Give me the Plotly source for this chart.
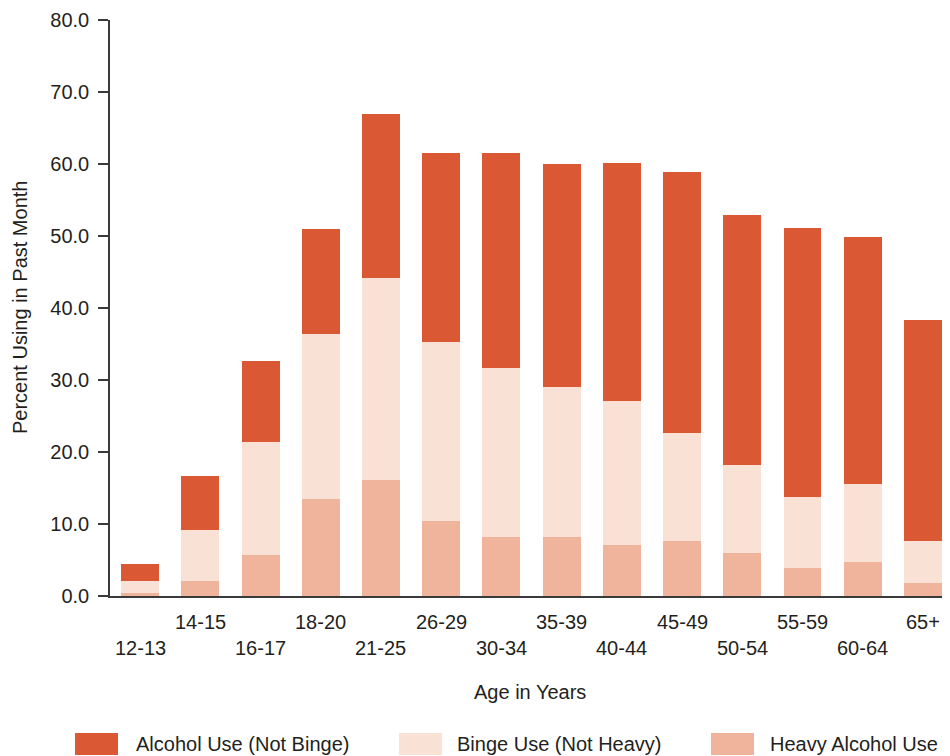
import plotly.graph_objects as go

# ---- data ----
categories = ["12-13", "14-15", "16-17", "18-20", "21-25", "26-29", "30-34",
              "35-39", "40-44", "45-49", "50-54", "55-59", "60-64", "65+"]
heavy_use = [0.4, 2.1, 5.7, 13.5, 16.1, 10.4, 8.2, 8.2, 7.1, 7.6, 6.0, 3.9, 4.7, 1.8]
binge_use = [1.7, 7.1, 15.7, 22.9, 28.1, 24.9, 23.5, 20.8, 20.0, 15.0, 12.2, 9.9, 10.9, 5.8]
alcohol_use = [2.3, 7.5, 11.2, 14.6, 22.7, 26.2, 29.8, 31.0, 33.1, 36.3, 34.7, 37.3, 34.3, 30.7]
series_names = ["Alcohol Use (Not Binge)", "Binge Use (Not Heavy)", "Heavy Alcohol Use"]
y_ticks = [0, 10, 20, 30, 40, 50, 60, 70, 80]

C_ALC = "#DA5833"
C_BINGE = "#FAE1D5"
C_HEAVY = "#F0B49C"
TXT = "#231F20"
AX = "#3a3a3a"
FONT = "Liberation Sans, Arial, sans-serif"
FS = 20

# page body offset (default 8px margin) is compensated
OFF = 8
W, H = 950 - OFF, 756 - OFF
ML, MR, MT = 110 - OFF, 0, 20 - OFF
MB = H - (596 - OFF)
PW, PH = W - ML - MR, H - MT - MB

def px_x(p):
    # reference pixel -> paper coordinate
    return (p - OFF - ML) / PW

def px_y(p):
    return (H - MB - (p - OFF)) / PH

fig = go.Figure()
idx = list(range(len(categories)))
fig.add_trace(go.Bar(x=idx, y=heavy_use, name=series_names[2], marker_color=C_HEAVY,
                     marker_line_width=0, showlegend=False))
fig.add_trace(go.Bar(x=idx, y=binge_use, name=series_names[1], marker_color=C_BINGE,
                     marker_line_width=0, showlegend=False))
fig.add_trace(go.Bar(x=idx, y=alcohol_use, name=series_names[0], marker_color=C_ALC,
                     marker_line_width=0, showlegend=False))

shapes = []
annotations = []
for i, c in enumerate(categories):
    upper = (i % 2 == 1)
    shapes.append(dict(type="line", xref="x", yref="y", x0=i, x1=i,
                       ysizemode="pixel", yanchor=0, y0=0, y1=-10 if upper else -32,
                       line=dict(color=AX, width=1.5)))
    annotations.append(dict(x=i, y=0, xref="x", yref="y", text=c, showarrow=False,
                            yanchor="middle", xanchor="center",
                            yshift=-26 if upper else -52,
                            font=dict(size=FS, color=TXT, family=FONT)))

# axis titles
annotations.append(dict(x=0.5, y=px_y(692), xref="paper", yref="paper", text="Age in Years",
                        showarrow=False, xanchor="center", yanchor="middle",
                        font=dict(size=FS, color=TXT, family=FONT)))
annotations.append(dict(x=px_x(20), y=0.5, xref="paper", yref="paper",
                        text="Percent Using in Past Month", textangle=-90,
                        showarrow=False, xanchor="center", yanchor="middle",
                        font=dict(size=FS, color=TXT, family=FONT)))

# custom legend
legend_items = [(series_names[0], C_ALC, 75, 134),
                (series_names[1], C_BINGE, 399, 455),
                (series_names[2], C_HEAVY, 711, 768)]
for name, col, sx, tx in legend_items:
    shapes.append(dict(type="rect", xref="paper", yref="paper",
                       x0=px_x(sx), x1=px_x(sx + 43), y0=px_y(733), y1=px_y(755),
                       fillcolor=col, line=dict(width=0)))
    annotations.append(dict(x=px_x(tx), y=px_y(744), xref="paper", yref="paper", text=name,
                            showarrow=False, xanchor="left", yanchor="middle",
                            font=dict(size=FS, color=TXT, family=FONT)))

fig.update_layout(
    barmode="stack",
    bargap=0.37,
    width=W, height=H,
    margin=dict(l=ML, r=MR, t=MT, b=MB),
    paper_bgcolor="white", plot_bgcolor="white",
    font=dict(family=FONT, size=FS, color=TXT),
    shapes=shapes,
    annotations=annotations,
    xaxis=dict(range=[-0.5, 13.45], showticklabels=False, ticks="", showgrid=False,
               zeroline=False, showline=True, linecolor=AX, linewidth=1.5),
    yaxis=dict(range=[0, 80], tickvals=y_ticks, tickformat=".1f", ticks="outside",
               ticklen=10, tickwidth=1.5, tickcolor=AX, showgrid=False, zeroline=False,
               showline=True, linecolor=AX, linewidth=1.5, ticklabelstandoff=5,
               tickfont=dict(size=FS, color=TXT, family=FONT)),
)

fig.write_html("out.html")
